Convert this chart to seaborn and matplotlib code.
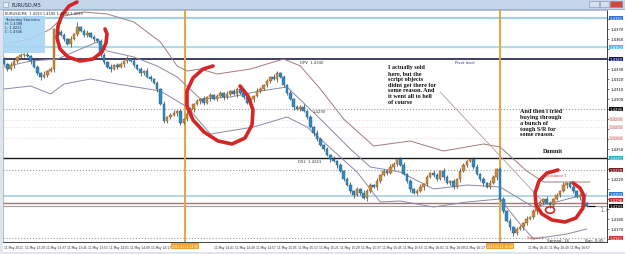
import matplotlib
matplotlib.use("Agg")
import numpy as np
import pandas as pd
import matplotlib.pyplot as plt
import matplotlib.transforms as mtransforms
from matplotlib.patches import Rectangle, Ellipse
import seaborn as sns

# ------------------------------------------------------------------ data
first_open = 1.4340
closes = [1.4335, 1.4330, 1.4334, 1.4338, 1.4342, 1.4344,
          1.4344, 1.4343, 1.4338, 1.4332,
          1.4326, 1.4322, 1.4324, 1.4328, 1.4330,
          1.4370,
          1.4367, 1.4364, 1.4360, 1.4355,
          1.4360, 1.4365, 1.4372, 1.4368,
          1.4364, 1.4366, 1.4362, 1.4360, 1.4358,
          1.4344,
          1.4337, 1.4332, 1.4330, 1.4334, 1.4332,
          1.4335, 1.4338, 1.4340, 1.4338, 1.4334,
          1.4330, 1.4326, 1.4328, 1.4322, 1.4320,
          1.4316, 1.4310, 1.4295, 1.4278,
          1.4282, 1.4284, 1.4286, 1.4288, 1.4276,
          1.4280, 1.4285, 1.4290, 1.4295, 1.4298,
          1.4300, 1.4296, 1.4302, 1.4304, 1.4300,
          1.4303, 1.4306, 1.4302, 1.4305, 1.4308,
          1.4305, 1.4310, 1.4306, 1.4302, 1.4296,
          1.4300, 1.4303, 1.4308, 1.4310, 1.4314,
          1.4318, 1.4322, 1.4320, 1.4326, 1.4322,
          1.4314, 1.4306, 1.4300, 1.4292, 1.4290,
          1.4292, 1.4288, 1.4282, 1.4272, 1.4266,
          1.4260, 1.4254, 1.4250, 1.4244, 1.4240,
          1.4238, 1.4234, 1.4228, 1.4220, 1.4214,
          1.4208, 1.4204, 1.4210, 1.4206, 1.4201,
          1.4208, 1.4214, 1.4212, 1.4218, 1.4224,
          1.4228, 1.4226, 1.4232, 1.4235, 1.4240,
          1.4234, 1.4225, 1.4218, 1.4210, 1.4206,
          1.4208, 1.4212, 1.4215, 1.4222, 1.4226,
          1.4224, 1.4220, 1.4228, 1.4222, 1.4216,
          1.4218, 1.4212, 1.4220, 1.4228, 1.4234,
          1.4238, 1.4240, 1.4232, 1.4225, 1.4220,
          1.4216, 1.4212, 1.4216, 1.4222, 1.4230,
          1.4200, 1.4188, 1.4178, 1.4172,
          1.4166, 1.4170, 1.4172, 1.4176, 1.4180,
          1.4182, 1.4188, 1.4194, 1.4197, 1.4200,
          1.4196, 1.4194, 1.4200, 1.4204, 1.4208,
          1.4214, 1.4216, 1.4212, 1.4208, 1.4202,
          1.4204, 1.4196, 1.4193]

# wick lengths in pips, one digit per candle
upper_wick = ("2132122313" "2141213221" "3151231212" "2131221312" "1213212131"
              "2312132121" "3121221312" "2131213212" "1321213122" "3121321213"
              "1212312132" "2131213212" "3121231213" "2132121321" "1231213212"
              "2131221312" "1213212131" "231221")
lower_wick = ("1213212131" "2312132121" "3121221312" "2131213212" "1321213122"
              "2132122313" "2141213221" "3121231212" "2131221312" "1213212131"
              "3121231213" "2132121321" "1231213212" "2131221312" "1212312132"
              "2133213212" "3121321213" "121321")

upper_band_bar = [0, 8, 14, 18, 24, 31, 39, 47, 52, 55, 59, 64, 74, 84, 89, 95,
                  102, 111, 122, 132, 144, 149, 157, 162, 176]
upper_band = [1.4355, 1.4360, 1.4370, 1.4383, 1.4387, 1.4385, 1.4377, 1.4357,
              1.4333, 1.4328, 1.4330, 1.4325, 1.4330, 1.4340, 1.4333, 1.4310,
              1.4280, 1.4253, 1.4258, 1.4248, 1.4255, 1.4252, 1.4228, 1.4217, 1.4217]
middle_band_bar = [0, 8, 16, 23, 28, 31, 39, 46, 52, 59, 68, 77, 85, 95, 104,
                   110, 119, 129, 139, 149, 159, 167, 175]
middle_band = [1.4332, 1.4338, 1.4340, 1.4350, 1.4357, 1.4348, 1.4342, 1.4333,
               1.4322, 1.4300, 1.4302, 1.4308, 1.4312, 1.4280, 1.4250, 1.4232,
               1.4227, 1.4210, 1.4214, 1.4212, 1.4192, 1.4198, 1.4205]
lower_band_bar = [0, 8, 14, 18, 26, 34, 47, 55, 62, 75, 85, 91, 101, 106, 113,
                  119, 129, 139, 149, 155, 159, 169, 175]
lower_band = [1.4310, 1.4313, 1.4305, 1.4315, 1.4320, 1.4315, 1.4308, 1.4292,
              1.4265, 1.4272, 1.4282, 1.4272, 1.4242, 1.4227, 1.4197, 1.4198,
              1.4192, 1.4197, 1.4200, 1.4175, 1.4160, 1.4165, 1.4170]

trend_bar = [131, 162.5]
trend_price = [1.4307, 1.4195]

# horizontal levels: price, colour, style, width
levels = [(1.4381, "#a6cfe0", "-", 1.6),
          (1.4352, "#b0dbe9", "-", 1.6),
          (1.4340, "#1d1d52", "-", 1.2),
          (1.4290, "#9a9a9a", ":", 0.8),
          (1.4279, "#eadada", ":", 0.7),
          (1.4272, "#eadada", ":", 0.7),
          (1.4261, "#eadada", ":", 0.7),
          (1.4241, "#1a1a1a", "-", 1.0),
          (1.4229, "#9a9a9a", ":", 0.8),
          (1.4203, "#a6cfe0", "-", 1.2),
          (1.4196, "#a07878", "-", 1.0),
          (1.4193, "#a0a0a0", "-", 0.8),
          (1.4161, "#9a9a9a", ":", 0.8)]

# boxed price labels on the scale: price, text, box colour, text colour
price_boxes = [(1.4381, "1.4381", "#2f6fd1", "white"),
               (1.4352, "1.4352", "#45c1ea", "white"),
               (1.4340, "1.4340", "#14147e", "white"),
               (1.4290, "1.4290", "#111111", "white"),
               (1.4280, "1.4279", "#f3d6d6", "#c08080"),
               (1.4272, "1.4272", "#f3d6d6", "#c08080"),
               (1.4261, "1.4261", "#f3d6d6", "#c08080"),
               (1.4241, "1.4241", "#2fb3c4", "white"),
               (1.4229, "1.4229", "#7a1f1f", "white"),
               (1.4205, "1.4203", "#2f80d6", "white"),
               (1.4199, "1.4196", "#c43030", "white"),
               (1.4193, "1.4193", "#111111", "white"),
               (1.4161, "1.4161", "#d33030", "white")]
price_ticks = [1.4160, 1.4170, 1.4180, 1.4190, 1.4200, 1.4210, 1.4220, 1.4230,
               1.4240, 1.4250, 1.4260, 1.4270, 1.4280, 1.4290, 1.4300, 1.4310,
               1.4320, 1.4330, 1.4340, 1.4350, 1.4360, 1.4370, 1.4380]

time_labels = ["11 May 2011", "11 May 13:29", "11 May 13:37", "11 May 13:45",
               "11 May 13:53", "11 May 14:01", "11 May 14:09", "11 May 14:17",
               "11 May 14:25", "11 May 14:33", "11 May 14:41", "11 May 14:49",
               "11 May 14:57", "11 May 15:05", "11 May 15:13", "11 May 15:21",
               "11 May 15:29", "11 May 15:37", "11 May 15:45", "11 May 15:53",
               "11 May 16:01", "11 May 16:09", "11 May 16:17", "11 May 16:25",
               "11 May 16:33", "11 May 16:41", "11 May 16:49", "11 May 16:57"]
vline_bars = [54.4, 149.0]
vline_labels = ["2011.05.11 14:30", "2011.05.11 16:30"]

note1 = ("I actually sold\nhere, but the\nscript objects\ndidnt get there for\n"
         "some reason. And\nit went all to hell\nof course")
note2 = "And then i tried\nbuying through\na bunch of\ntough S/R for\nsome reason."
note3 = "Damnit"

# freehand red marks (screen pixels)
circle1 = [(77, 3), (69, 7), (62, 16), (58, 27), (57, 39), (60, 50), (68, 58),
           (80, 62), (93, 60), (102, 53), (106, 44), (107, 35), (105, 30)]
circle2 = [(213, 67), (203, 70), (193, 79), (187, 92), (187, 107), (193, 121),
           (204, 133), (218, 142), (232, 145), (245, 139), (252, 126), (253, 111),
           (248, 97), (240, 87)]
circle3 = [(558, 171), (547, 174), (539, 182), (535, 194), (536, 206), (542, 215),
           (552, 221), (565, 223), (576, 219), (583, 209), (584, 197), (580, 189),
           (573, 184)]

# ------------------------------------------------------------------ build
sns.set_theme(style="white")
plt.rcParams["font.family"] = ["DejaVu Sans"]

n = len(closes)
opens = [first_open] + closes[:-1]
uw = [int(ch) for ch in upper_wick[:n]]
dw = [int(ch) for ch in lower_wick[:n]]
df = pd.DataFrame({"bar": np.arange(n), "open": opens, "close": closes})
df["high"] = df[["open", "close"]].max(axis=1) + np.array(uw) * 0.0001
df["low"] = df[["open", "close"]].min(axis=1) - np.array(dw) * 0.0001
df["bull"] = df["close"] >= df["open"]

W, H = 625, 255
fig = plt.figure(figsize=(6.25, 2.55), dpi=100)
fig.patch.set_facecolor("#dfe5ec")

bg = fig.add_axes([0, 0, 1, 1], zorder=0)
bg.set_xlim(0, W); bg.set_ylim(H, 0); bg.axis("off")
bg.add_patch(Rectangle((0, 0), W, 10, color="#c4d5ea", lw=0))
bg.add_patch(Rectangle((0, 9.5), W, 1.2, color="#9fb3cc", lw=0))
bg.add_patch(Rectangle((607, 11), 18, 233, color="white", lw=0))
bg.add_patch(Rectangle((3, 243), 622, 10, color="white", lw=0))
bg.add_patch(Rectangle((3, 2.5), 5, 5, facecolor="#e9eef5", edgecolor="#7f95b0", lw=0.4))
bg.text(11, 5.2, "EURUSD,M5", fontsize=3.6, color="#1d2a3a", va="center")
for bx, bw, bc in [(589, 10, "#d5e0ee"), (600, 8.5, "#d5e0ee"), (609.5, 12.5, "#d6463b")]:
    bg.add_patch(Rectangle((bx, 2.2), bw, 5.6, facecolor=bc, edgecolor="#7d8fa8", lw=0.4))

ax = fig.add_axes([3 / W, (H - 243) / H, 604 / W, 232 / H], zorder=1)
ax.set_facecolor("white")
ax.set_xlim(-0.3, 181.1)
ax.set_ylim(1.4157, 1.4389)

for price, col, ls, lw in levels:
    ax.axhline(price, color=col, ls=ls, lw=lw, zorder=1)
for vb in vline_bars:
    ax.axvline(vb, color="#e9a53e", lw=1.4, zorder=2)

band_style = dict(ax=ax, estimator=None, sort=False, linewidth=0.7, zorder=2)
sns.lineplot(x=upper_band_bar, y=upper_band, color="#a37b7b", **band_style)
sns.lineplot(x=middle_band_bar, y=middle_band, color="#8d88a3", **band_style)
sns.lineplot(x=lower_band_bar, y=lower_band, color="#8d88a8", **band_style)
sns.lineplot(x=trend_bar, y=trend_price, color="#b59a9a", ax=ax, estimator=None,
             sort=False, linewidth=0.6, zorder=2)

ax.vlines(df["bar"], df["low"], df["high"], color="#4a4a4a", lw=0.55, zorder=3)
body_col = np.where(df["bull"], "#c98a3d", "#2f8cc2")
edge_col = np.where(df["bull"], "#8a5a22", "#1c5a80")
ax.bar(df["bar"], np.maximum((df["close"] - df["open"]).abs(), 0.00006),
       bottom=df[["open", "close"]].min(axis=1), width=0.78, color=body_col,
       edgecolor=edge_col, linewidth=0.3, zorder=4)
ax.hlines(closes[-1], n - 0.6, n + 1.6, color="black", lw=0.8, zorder=4)
ax.text(n + 2.9, closes[-1] - 0.0003, "1.4", fontsize=5, color="#8a8a8a",
        va="center", ha="left", clip_on=True, zorder=4)

# price scale (plain ticks hidden where a boxed label sits)
box_prices = [b[0] for b in price_boxes]
ax.yaxis.tick_right()
ax.set_yticks(price_ticks)
ax.set_yticklabels(["" if min(abs(p - b) for b in box_prices) < 0.00055 else f"{p:.4f}"
                    for p in price_ticks])
ax.tick_params(axis="y", labelsize=2.7, length=1.5, width=0.4, pad=1,
               colors="black", direction="out")
tr_y = mtransforms.blended_transform_factory(ax.transAxes, ax.transData)
for price, txt, bc, tc in price_boxes:
    ax.text(1.0035, price, txt, transform=tr_y, fontsize=2.7, color=tc, va="center",
            ha="left", clip_on=False, zorder=6,
            bbox=dict(boxstyle="square,pad=0.1", fc=bc, ec="none"))

# time scale (labels under the orange markers are covered)
time_pos = [k * 6.3 for k in range(len(time_labels))]
ax.set_xticks(time_pos)
ax.set_xticklabels(["" if any(-6.5 < p - vb < 4.5 for vb in vline_bars) else t
                    for p, t in zip(time_pos, time_labels)], ha="left")
ax.tick_params(axis="x", labelsize=2.1, length=1.5, width=0.4, pad=1,
               colors="#222222", direction="out")
tr_x = mtransforms.blended_transform_factory(ax.transData, ax.transAxes)
for vb, txt in zip(vline_bars, vline_labels):
    ax.text(vb, -0.008, txt, transform=tr_x, fontsize=2.1, color="white", ha="center",
            va="top", clip_on=False, zorder=6,
            bbox=dict(boxstyle="square,pad=0.35", fc="#f0a535", ec="none"))

for side in ["left", "top"]:
    ax.spines[side].set_color("#9aa3ad"); ax.spines[side].set_linewidth(0.5)
for side in ["right", "bottom"]:
    ax.spines[side].set_color("#222222"); ax.spines[side].set_linewidth(0.6)

# ------------------------------------------------------------------ overlay
ov = fig.add_axes([0, 0, 1, 1], zorder=5)
ov.set_xlim(0, W); ov.set_ylim(H, 0); ov.axis("off")
ov.patch.set_alpha(0)

ov.add_patch(Rectangle((3, 16.5), 42, 37, facecolor="#a8d5f4", edgecolor="none", alpha=0.9))
ov.text(5, 13.8, "EURUSD,M5  1.4193 1.4195 1.4192 1.4193", fontsize=2.6,
        color="#222222", va="center")
for k, line in enumerate(["Yesterday Statistics", "H: 1.4398", "L: 1.4221", "C: 1.4346"]):
    ov.text(5, 20 + k * 3.9, line, fontsize=2.5, color="#1d2d4a", va="center")

ov.text(300, 63.5, "DPV  1.4340", fontsize=2.7, color="#333333", va="center")
ov.text(455, 62.5, "Pivot level", fontsize=2.7, color="#2a2a8a", va="center")
ov.text(313, 112.5, "1.4290", fontsize=2.7, color="#333333", va="center")
ov.text(298, 162, "DS1  1.4241", fontsize=2.7, color="#333333", va="center")
ov.text(545, 176.5, "Resistance 1", fontsize=2.4, color="#c23a3a", va="center")
ov.text(527, 238.5, "Support 1", fontsize=2.4, color="#c23a3a", va="center")
ov.text(547, 241, "Spread: 16", fontsize=3.0, color="#333333", va="center")
ov.text(585, 241, "Bar: 0:45", fontsize=3.0, color="#333333", va="center")

serif = dict(family=["Liberation Serif", "DejaVu Serif"], weight="bold",
             color="#111111", fontsize=4.4, linespacing=1.18, va="top", ha="left")
ov.text(388, 65.5, note1, **serif)
ov.text(520, 109.5, note2, **serif)
ov.text(543, 149.5, note3, **serif)

red = dict(color="#d42626", lw=2.6, solid_capstyle="round", solid_joinstyle="round")
for pts in (circle1, circle2, circle3):
    xs, ys = zip(*pts)
    ov.plot(xs, ys, **red)
ov.add_patch(Ellipse((550, 211), 9, 6.5, fill=False, edgecolor="#d42626", lw=1.2))

fig.savefig("out.png", dpi=100, facecolor=fig.get_facecolor())
